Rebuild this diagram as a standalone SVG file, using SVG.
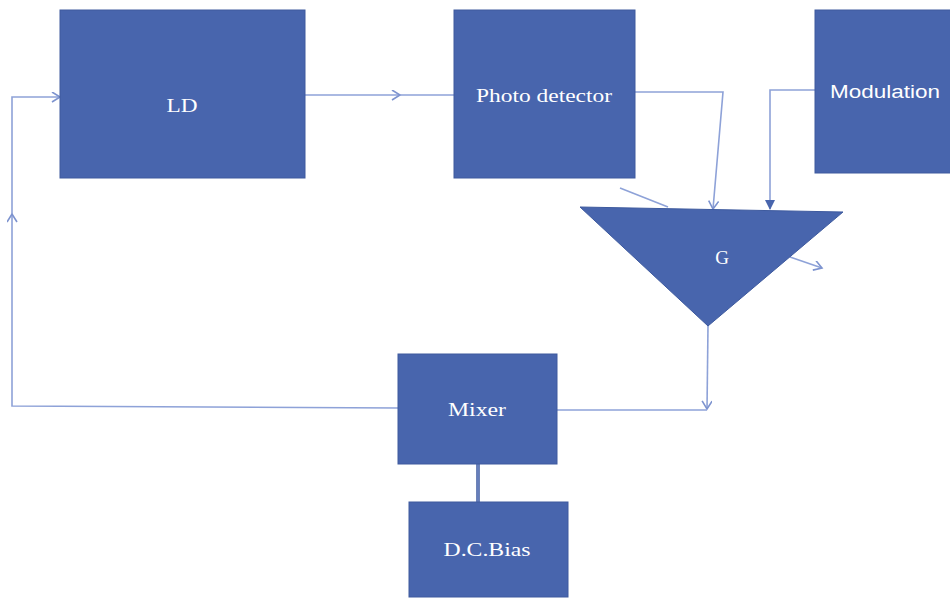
<svg xmlns="http://www.w3.org/2000/svg" width="950" height="599" viewBox="0 0 950 599">
<style>
.blk{fill:#4865AD;stroke:#3E5A9E;stroke-width:1}
.t{fill:#ffffff;font-family:"Liberation Serif",serif;font-size:19px;text-anchor:middle}
.ts{fill:#ffffff;font-family:"Liberation Sans",sans-serif;font-size:18px;text-anchor:middle}
.c{fill:none;stroke:#8EA2D8;stroke-width:1.6}
</style>
<defs>
<marker id="open" markerWidth="12" markerHeight="12" refX="9" refY="5" orient="auto" markerUnits="userSpaceOnUse">
<path d="M1,0 L9,5 L1,10" fill="none" stroke="#7D93CF" stroke-width="1.6"/>
</marker>
<marker id="fill" markerWidth="12" markerHeight="12" refX="9" refY="5" orient="auto" markerUnits="userSpaceOnUse">
<path d="M0,0 L10,5 L0,10 Z" fill="#4865AD"/>
</marker>
</defs>
<rect width="950" height="599" fill="#ffffff"/>
<g id="connectors">
<path class="c" d="M305,95 L400,95" marker-end="url(#open)"/>
<path class="c" d="M400,95 L454,95"/>
<path class="c" d="M398,408 L12,406 L12,214" marker-end="url(#open)"/>
<path class="c" d="M12,214 L12,97 L60,97" marker-end="url(#open)"/>
<path class="c" d="M635,92 L723,92 L713,209" marker-end="url(#open)"/>
<path class="c" d="M815,90 L770,90 L770,209" marker-end="url(#fill)"/>
<path class="c" d="M620,188 L668,207"/>
<path class="c" d="M790,257 L822,268" marker-end="url(#open)"/>
<path class="c" d="M708,326 L707,409" marker-end="url(#open)"/>
<path class="c" d="M707,410 L557,410"/>
<path d="M478,502 L478,464" fill="none" stroke="#3E5A9E" stroke-width="3.5"/>
<path d="M478,502 L478,464" fill="none" stroke="#8EA2D8" stroke-width="1"/>
</g>
<g id="ld"><rect class="blk" x="60" y="10" width="245" height="168"/><text class="t" x="182" y="112" textLength="31" lengthAdjust="spacingAndGlyphs">LD</text></g>
<g id="pd"><rect class="blk" x="454" y="10" width="181" height="168"/><text class="t" x="544" y="102" textLength="136" lengthAdjust="spacingAndGlyphs">Photo detector</text></g>
<g id="mod"><rect class="blk" x="815" y="10" width="140" height="163"/><text class="ts" x="885" y="98" textLength="110" lengthAdjust="spacingAndGlyphs">Modulation</text></g>
<g id="amp"><polygon class="blk" points="580,207 843,212 708,326"/><text class="t" x="722" y="264" font-size="14">G</text></g>
<g id="mixer"><rect class="blk" x="398" y="354" width="159" height="110"/><text class="t" x="477" y="416" textLength="58" lengthAdjust="spacingAndGlyphs">Mixer</text></g>
<g id="dcbias"><rect class="blk" x="409" y="502" width="159" height="95"/><text class="t" x="487" y="556" textLength="87" lengthAdjust="spacingAndGlyphs">D.C.Bias</text></g>
</svg>
